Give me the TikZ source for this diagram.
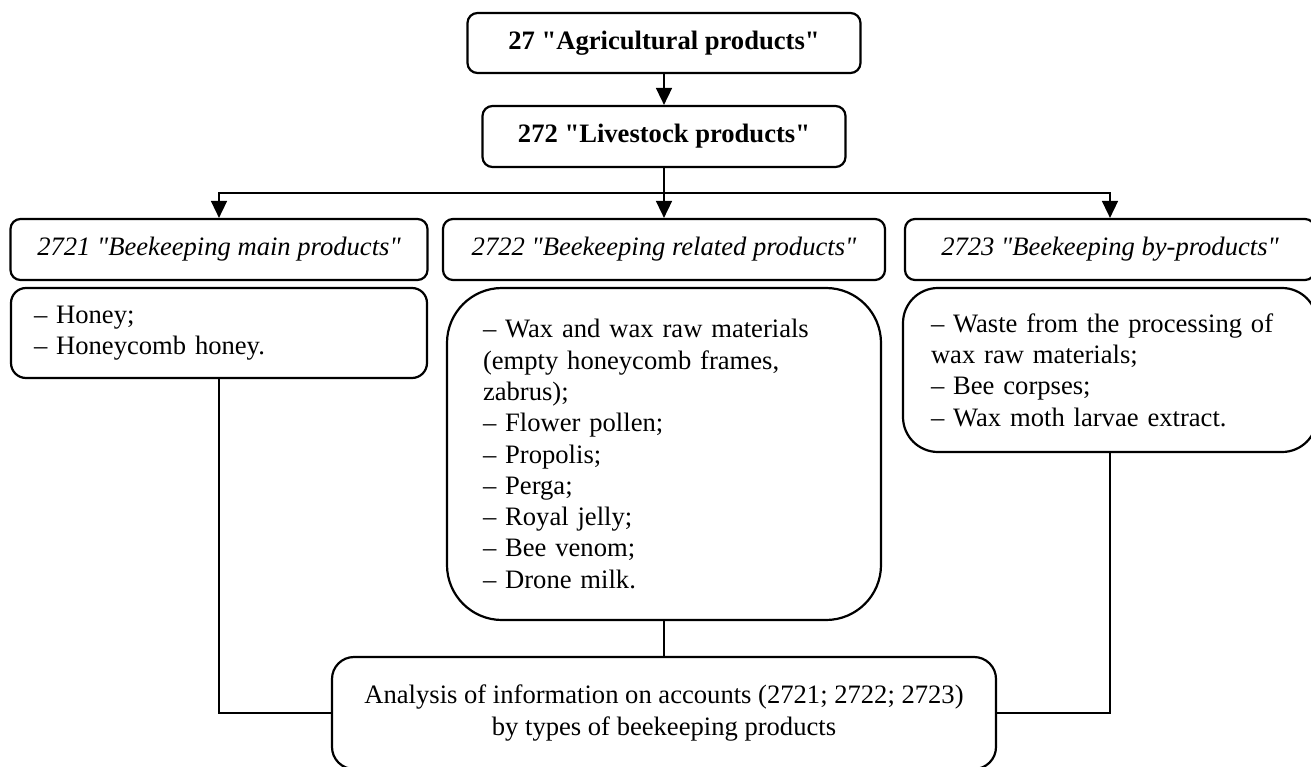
\documentclass[tikz,border=0pt]{standalone}
\usepackage{fontspec}
\setmainfont{Liberation Serif}[Ligatures=TeXOff]
\usetikzlibrary{arrows.meta}

\begin{document}
\begin{tikzpicture}[x=1pt,y=-1pt,
    every node/.style={font=\fontsize{26.6pt}{31.3pt}\selectfont, inner sep=0pt},
    box/.style={draw, line width=2.2pt, rounded corners=10pt},
    title/.style={box, minimum height=61pt, font=\fontsize{26.6pt}{31.3pt}\selectfont\bfseries},
    head/.style={box, minimum height=61pt, font=\fontsize{26.6pt}{31.3pt}\selectfont\itshape},
    list/.style={draw, line width=2.2pt, align=left},
    link/.style={line width=1.6pt},
    arr/.style={link, -{Triangle[length=17pt,width=16pt]}}]
    \useasboundingbox (0,0) rectangle (1311,767);

    \node (agri) at (664,43) [title, minimum width=393pt, minimum height=60pt] {27 "Agricultural products"};
    \node (live) at (664,136.5) [title, minimum width=363pt] {272 "Livestock products"};
    \coordinate (fork) at (664,193);

    \node (h1) at (219,249.5) [head, minimum width=417pt] {2721 "Beekeeping main products"};
    \node (h2) at (664,249.5) [head, minimum width=442pt] {2722 "Beekeeping related products"};
    \node (h3) at (1110,249.5) [head, minimum width=410pt] {2723 "Beekeeping by-products"};

    \node (b1) at (219,333) [list, rounded corners=15pt, text width=370pt, inner xsep=23pt, minimum height=90pt]
        {– Honey;\\– Honeycomb honey.};
    \node (b2) at (664,454) [list, rounded corners=55pt, text width=362pt, inner xsep=36pt, minimum height=332pt]
        {– Wax and wax raw materials\\(empty honeycomb frames,\\zabrus);\\– Flower pollen;\\– Propolis;\\– Perga;\\– Royal jelly;\\– Bee venom;\\– Drone milk.};
    \node (b3) at (1110,370) [list, rounded corners=35pt, text width=358pt, inner xsep=28pt, minimum height=164pt]
        {– Waste from the processing of\\wax raw materials;\\– Bee corpses;\\– Wax moth larvae extract.};

    \node (res) at (664,713) [box, rounded corners=22pt, minimum width=664pt, minimum height=112pt, align=center]
        {Analysis of information on accounts (2721; 2722; 2723)\\by types of beekeeping products};

    \draw[arr] (agri) -- (live);
    \draw[link] (live) -- (fork);
    \draw[arr] (fork) -| (h1);
    \draw[arr] (fork) -- (h2);
    \draw[arr] (fork) -| (h3);

    \draw[link] (b1) |- (res);
    \draw[link] (b2) -- (res);
    \draw[link] (b3) |- (res);
\end{tikzpicture}
\end{document}
